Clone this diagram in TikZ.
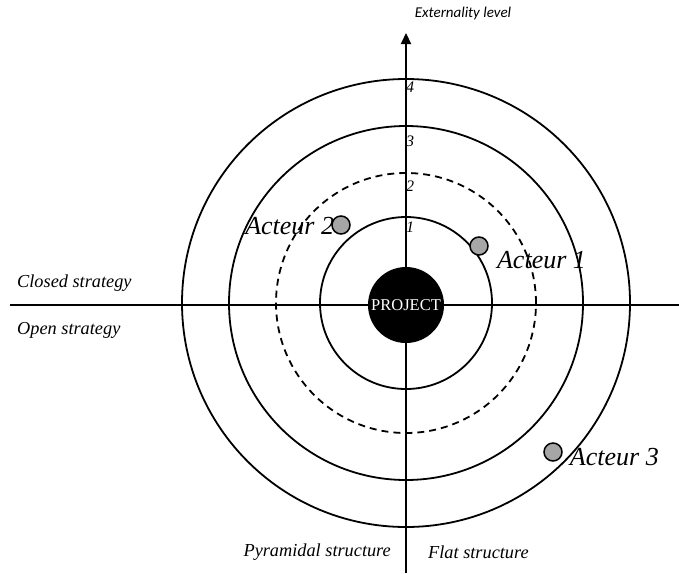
\documentclass[tikz,border=0pt]{standalone}
\usepackage{fontspec}
\setmainfont{Liberation Serif}
\newfontfamily\calfont{Carlito}
\usetikzlibrary{positioning,arrows.meta}
\definecolor{actorgray}{RGB}{166,166,166}

\tikzset{
	ring/.style={line width=1.8pt},
	axisline/.style={line width=2.2pt},
	actor/.style={circle, draw, line width=1.5pt, fill=actorgray, minimum size=18pt, inner sep=0pt},
	actorlabel/.style={inner sep=0pt, font=\fontsize{26}{28}\selectfont\itshape},
	sidelabel/.style={inner sep=0pt, font=\fontsize{18.3}{20}\selectfont\itshape},
	level/.style={inner sep=0pt, font=\fontsize{16}{17}\selectfont\itshape}
}

\begin{document}
\begin{tikzpicture}[x=1pt, y=-1pt]
		\useasboundingbox (0,0) rectangle (679,573);
		
		% Kreise um das Projekt
		\coordinate (c) at (406,303);
		\draw[ring] (c) circle[radius=224pt];
		\draw[ring] (c) circle[radius=177pt];
		\draw[ring, dash pattern=on 7pt off 5pt] (c) circle[radius=130pt];
		\draw[ring] (c) circle[radius=86pt];
		
		% Achsen
		\coordinate (top) at (406,33);
		\coordinate (bottom) at (406,573);
		\coordinate (left) at (10,305);
		\coordinate (right) at (679,305);
		\draw[axisline] (left) -- (right);
		\draw[axisline, -{Triangle[width=10pt, length=11pt]}] (bottom) -- (top);
		
		% Projekt
		\node[circle, fill=black, minimum size=76pt, inner sep=0pt, text=white,
			font=\fontsize{16.5}{17}\selectfont] (project) at (406,305) {PROJECT};
		
		% Stufen
		\node[level] (l4) at (410,87) {4};
		\node[level] (l3) at (410,141) {3};
		\node[level] (l2) at (410,186) {2};
		\node[level] (l1) at (410,227) {1};
		
		% Beschriftung der Achsen
		\node[inner sep=0pt, font=\calfont\fontsize{15}{16}\selectfont\itshape] (ext) at (463,13) {Externality level};
		\node[sidelabel, anchor=west] (closed) at (17,283) {Closed strategy};
		\node[sidelabel, anchor=west] (open) at (17,330) {Open strategy};
		\node[sidelabel, anchor=east] (pyr) at (391,552) {Pyramidal structure};
		\node[sidelabel, anchor=west] (flat) at (428,552) {Flat structure};
		
		% Akteure
		\node[actor] (a1) at (479,246) {};
		\node[actor] (a2) at (341,225) {};
		\node[actor] (a3) at (553,452) {};
		\node[actorlabel, below right=-2pt and 11pt of a1] (t1) {Acteur 1};
		\node[actorlabel, left=-3pt of a2, yshift=-1pt] (t2) {Acteur 2};
		\node[actorlabel, right=7pt of a3, yshift=-5pt] (t3) {Acteur 3};
		
	\end{tikzpicture}
\end{document}
